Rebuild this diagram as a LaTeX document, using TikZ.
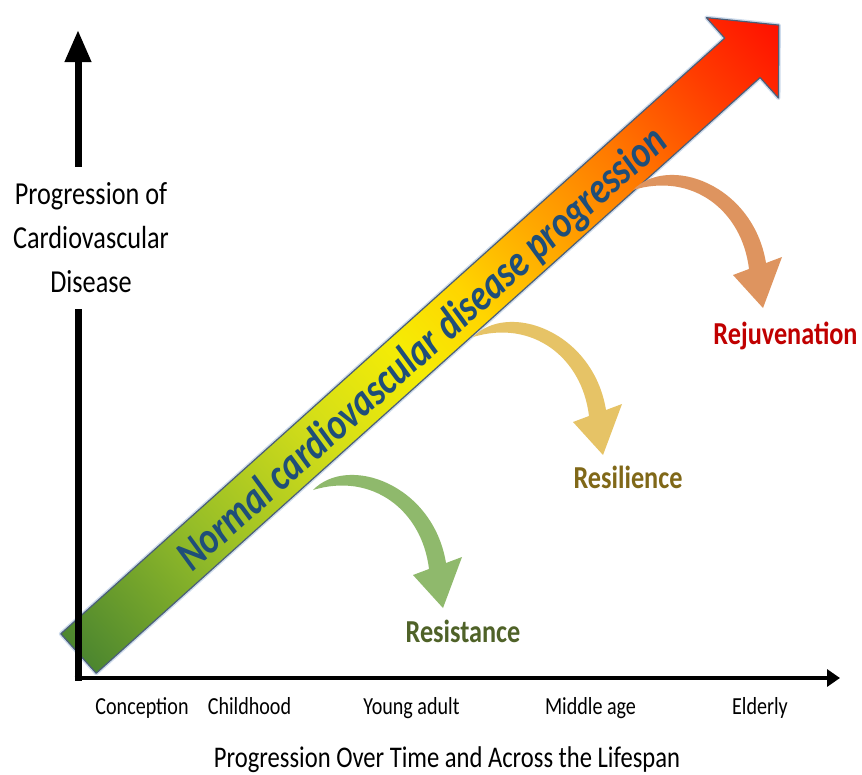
\documentclass[tikz,border=0pt]{standalone}
\usepackage{fontspec}
\setmainfont{Carlito}[FakeStretch=0.82]
\usetikzlibrary{arrows.meta}

% colours of the progression band (green -> yellow -> red)
\definecolor{bandA}{HTML}{4C862F}
\definecolor{bandB}{HTML}{95BD28}
\definecolor{bandC}{HTML}{D4DE18}
\definecolor{bandD}{HTML}{F5EC05}
\definecolor{bandE}{HTML}{FFD500}
\definecolor{bandF}{HTML}{FFAD00}
\definecolor{bandG}{HTML}{FF7800}
\definecolor{bandH}{HTML}{FF3C00}
\definecolor{bandI}{HTML}{FF1000}
\definecolor{bandedge}{HTML}{4A5E78}
\definecolor{bandhalo}{HTML}{B9CCE4}
\definecolor{bandink}{HTML}{1F4E79}
% outcome arrows and their labels
\definecolor{resistfill}{HTML}{8FB96C}
\definecolor{resilfill}{HTML}{E6C366}
\definecolor{rejuvfill}{HTML}{DE945F}
\definecolor{resistink}{HTML}{4F6228}
\definecolor{resilink}{HTML}{806818}
\definecolor{rejuvink}{HTML}{C00000}

\pgfdeclarehorizontalshading{cvdband}{100bp}{%
  color(0bp)=(bandA); color(25bp)=(bandA); color(34bp)=(bandB);
  color(42.5bp)=(bandC); color(48.5bp)=(bandD); color(53bp)=(bandE);
  color(57.5bp)=(bandF); color(64bp)=(bandG); color(70bp)=(bandH);
  color(75bp)=(bandI); color(100bp)=(bandI)}

\tikzset{
  ticklab/.style={font=\fontsize{24.5}{28}\selectfont, inner sep=0pt},
  titlelab/.style={font=\fontsize{30}{34}\selectfont, inner sep=0pt},
  outcome/.style={font=\bfseries\fontsize{32}{36}\selectfont, inner sep=0pt},
  bandtext/.style={font=\bfseries\itshape\fontsize{44}{48}\selectfont, text=bandink, inner sep=0pt},
  axisline/.style={line width=#1, black},
  pics/bendarrow/.style={code={
    \fill[pic actions] (0,0) .. controls (35,-36) and (120,-6) .. (133,73)
      -- (149,67) -- (130,118) -- (100,85) -- (116,79)
      .. controls (109,20) and (59,-18) .. (0,0) -- cycle;
  }}
}

\begin{document}
\begin{tikzpicture}[x=1pt,y=-1pt]
\useasboundingbox[fill=white] (0,0) rectangle (862,774);

% the wide progression band, drawn along its own axis
\begin{scope}[transform canvas={shift={(78.5,653.5)},rotate=41.9}]
  \path[draw=bandhalo, line width=4pt, line join=round, opacity=.7]
    (0,-26.5) -- (892,-26.5) -- (892,-54) -- (941,0) -- (892,54) -- (892,26.5) -- (0,26.5) -- cycle;
  \path[shade, shading=cvdband, draw=bandedge, line width=1.2pt, line join=round]
    (0,-26.5) -- (892,-26.5) -- (892,-54) -- (941,0) -- (892,54) -- (892,26.5) -- (0,26.5) -- cycle;
\end{scope}
\node[bandtext, rotate=41.9] (bandlabel) at (423,350) {Normal cardiovascular disease progression};

% outcome arrows
\pic[fill=resistfill] (arrResist) at (313,490) {bendarrow};
\pic[fill=resilfill] (arrResil) at (473,337) {bendarrow};
\pic[fill=rejuvfill] (arrRejuv) at (633,190) {bendarrow};

\node[outcome, text=resistink, anchor=base] (resist) at (463,642) {Resistance};
\node[outcome, text=resilink, anchor=base] (resil) at (628,488) {Resilience};
\node[outcome, text=rejuvink, anchor=base] (rejuv) at (785.5,344) {Rejuvenation};

% axes
\coordinate (ybot) at (78,680.5);
\coordinate (ytip) at (78,30);
\coordinate (xbeg) at (74.5,678);
\coordinate (xtip) at (840,678);
\draw[axisline=7pt, -{Triangle[length=32pt,width=25pt]}] (ybot) -- (ytip);
\draw[axisline=4.5pt, -{Triangle[length=13pt,width=17pt]}] (xbeg) -- (xtip);

\node[fill=white, align=center, inner xsep=3pt, inner ysep=16pt,
      font=\fontsize{32}{44}\selectfont] (ylabel) at (91,238)
  {Progression of\\Cardiovascular\\Disease};

% life stages
\node[ticklab, anchor=base] (conception) at (142,714) {Conception};
\node[ticklab, anchor=base] (childhood) at (249.5,714) {Childhood};
\node[ticklab, anchor=base] (youngadult) at (411.5,714) {Young adult};
\node[ticklab, anchor=base] (middleage) at (590.5,714) {Middle age};
\node[ticklab, anchor=base] (elderly) at (760,714) {Elderly};
\node[titlelab, anchor=base] (xlabel) at (447,767) {Progression Over Time and Across the Lifespan};
\end{tikzpicture}
\end{document}
